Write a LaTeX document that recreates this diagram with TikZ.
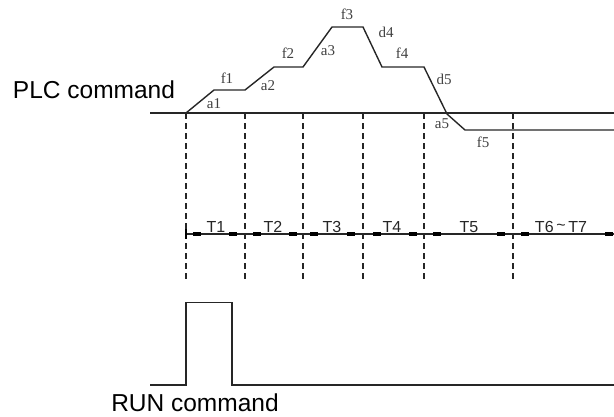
\documentclass[tikz,border=0pt]{standalone}
\usepackage{fontspec}
\setmainfont{Liberation Sans}
\newfontfamily\lblfont{Liberation Serif}
\begin{document}
\begin{tikzpicture}[x=1pt,y=-1pt,
  sig/.style={line width=1.4pt,black!85},
  guide/.style={line width=1.5pt,black!85,dash pattern=on 6pt off 4pt},
  wlbl/.style={font=\lblfont\fontsize{15}{15}\selectfont,inner sep=0pt,text=black!75},
  tlbl/.style={font=\fontsize{16}{16}\selectfont,inner sep=0pt,text=black!85},
  big/.style={font=\fontsize{24.5}{25}\selectfont,inner sep=0pt},
  tick/.style={fill=black,inner sep=0pt,minimum width=8pt,minimum height=4pt}]
\useasboundingbox (0,0) rectangle (614,416);

% titles
\node[big,anchor=base] (plc) at (94,98) {PLC command};
\node[big,anchor=base] (run) at (195,411.5) {RUN command};

% baseline
\coordinate (b0) at (150,113);
\coordinate (b1) at (614,113);
\draw[sig] (b0) -- (b1);

% waveform
\coordinate (w0) at (186,113);
\coordinate (w1) at (214,90);
\coordinate (w2) at (245,90);
\coordinate (w3) at (274,67);
\coordinate (w4) at (303,67);
\coordinate (w5) at (332,27);
\coordinate (w6) at (363,27);
\coordinate (w7) at (382,67);
\coordinate (w8) at (424,67);
\coordinate (w9) at (447,114);
\coordinate (w10) at (465,130);
\coordinate (w11) at (614,130);
\draw[sig] (w0) -- (w1) -- (w2) -- (w3) -- (w4) -- (w5) -- (w6) -- (w7) -- (w8) -- (w9) -- (w10) -- (w11);

% waveform labels
\node[wlbl] (f1) at (227,78) {f1};
\node[wlbl] (a1) at (214,104) {a1};
\node[wlbl] (f2) at (288,53) {f2};
\node[wlbl] (a2) at (268,86) {a2};
\node[wlbl] (f3) at (347,14) {f3};
\node[wlbl] (a3) at (328,51) {a3};
\node[wlbl] (d4) at (386,32) {d4};
\node[wlbl] (f4) at (402,53) {f4};
\node[wlbl] (d5) at (444,79) {d5};
\node[wlbl] (a5) at (442,124) {a5};
\node[wlbl] (f5) at (483,142) {f5};

% dashed guides
\foreach \n/\x in {g1/186,g2/245,g3/303,g4/363,g5/424,g6/513}{
  \coordinate (\n t) at (\x,113);
  \coordinate (\n b) at (\x,280);
  \draw[guide] (\n t) -- (\n b);
}

% time line
\coordinate (tl0) at (186,234);
\coordinate (tl1) at (614,234);
\draw[sig] (tl0) -- (tl1);
\coordinate (tk0a) at (186,229);
\coordinate (tk0b) at (186,239);
\draw[line width=1.4pt] (tk0a) -- (tk0b);
\foreach \n/\x in {k1/197,k2/233,k3/257,k4/293,k5/314,k6/351,k7/377,k8/413,k9/437,k10/501,k11/525,k12/609}{
  \node[tick] (\n) at (\x,234) {};
}
\node[tlbl] (T1) at (216,227) {T1};
\node[tlbl] (T2) at (273,227) {T2};
\node[tlbl] (T3) at (332,227) {T3};
\node[tlbl] (T4) at (392,227) {T4};
\node[tlbl] (T5) at (469,227) {T5};
\node[tlbl] (T6) at (561,227) {T6\,\raisebox{0.15em}{\textasciitilde}\,T7};

% RUN signal
\coordinate (r0) at (150,385);
\coordinate (r1) at (186,385);
\coordinate (r2) at (186,302.5);
\coordinate (r3) at (232,302.5);
\coordinate (r4) at (232,385);
\coordinate (r5) at (614,385);
\draw[sig] (r0) -- (r1) -- (r2) -- (r3) -- (r4) -- (r5);
\end{tikzpicture}
\end{document}
